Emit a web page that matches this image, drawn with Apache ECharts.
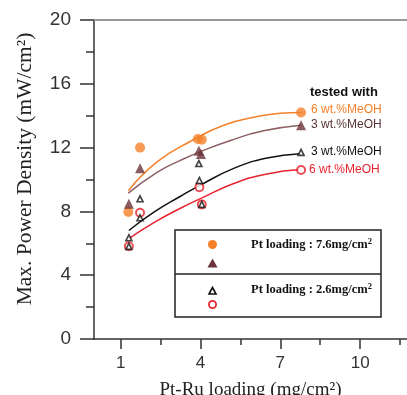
<!DOCTYPE html>
<html>
<head>
<meta charset="utf-8">
<script src="https://cdn.jsdelivr.net/npm/echarts@6/dist/echarts.min.js"></script>
<style>
  html, body { margin: 0; padding: 0; background: #fff; }
  #chart { width: 407px; height: 395px; }
</style>
</head>
<body>
<div id="chart"></div>
<script>
// tick positions
const xMajorTicks = [1, 4, 7, 10];
const xMinorTicks = [2.5, 5.5, 8.5, 11.5];
const yMinorTicks = [2, 6, 10, 14, 18];

// measured points (Pt-Ru loading, max power density)
const orangePts = [[1.29, 7.96], [1.73, 12.0], [3.9, 12.54], [4.05, 12.5], [7.78, 14.2]];
const brownPts = [[1.31, 8.48], [1.73, 10.7], [3.94, 11.8], [4.02, 11.6], [7.78, 13.4]];
const blackPts = [[1.31, 6.35], [1.31, 5.81], [1.73, 8.79], [1.73, 7.6], [3.94, 11.0], [3.96, 9.94], [4.05, 8.44], [7.78, 11.7]];
const redPts = [[1.31, 5.81], [1.73, 7.92], [3.96, 9.52], [4.05, 8.44], [7.78, 10.6]];

// fitted curves
const orangeCurve = [[1.29, 9.3], [2.37, 11.1], [3.63, 12.4], [4.87, 13.4], [6.13, 13.95], [7.0, 14.15], [7.78, 14.2]];
const brownCurve = [[1.29, 9.15], [2.37, 10.45], [3.25, 11.2], [4.0, 11.75], [5.13, 12.45], [6.37, 13.05], [7.78, 13.4]];
const blackCurve = [[1.31, 6.8], [2.25, 7.95], [3.25, 8.95], [4.0, 9.65], [5.25, 10.7], [6.5, 11.35], [7.75, 11.62]];
const redCurve = [[1.31, 6.3], [2.25, 7.3], [3.25, 8.2], [4.0, 8.8], [5.25, 9.75], [6.5, 10.35], [7.75, 10.62]];

const C_ORANGE = "#f4812a";
const C_BROWN = "#6b3339";
const C_BROWN_LINE = "#8c5f62";
const C_BLACK = "#111111";
const C_RED = "#e8232e";
const AXIS = "#333";

const chart = echarts.init(document.getElementById("chart"), null, { renderer: "canvas" });

const lineSeries = (data, color) => ({
  type: "line",
  data: data,
  smooth: 0.5,
  symbol: "none",
  lineStyle: { color: color, width: 1.5 },
  z: 2,
});

const supText = (text) => ({
  text: "{t|" + text + "}{s|2}",
  verticalAlign: "middle",
  rich: {
    t: { fontFamily: "Liberation Serif", fontWeight: "bold", fontSize: 12.5, fill: "#111" },
    s: { fontFamily: "Liberation Serif", fontWeight: "bold", fontSize: 8.5, fill: "#111", verticalAlign: "top", padding: [0, 0, 6, 0] },
  },
});

const option = {
  animation: false,
  grid: { left: 94, right: 0, top: 20, bottom: 56, outerBoundsMode: "none", containLabel: false },
  xAxis: [
    {
      type: "value",
      min: 0,
      max: 11.76,
      position: "bottom",
      splitLine: { show: false },
      axisLine: { lineStyle: { color: AXIS, width: 1.5 } },
      axisTick: { customValues: xMajorTicks, length: 10, lineStyle: { color: AXIS, width: 1.5 } },
      axisLabel: {
        customValues: xMajorTicks,
        color: AXIS,
        fontSize: 17,
        fontFamily: "Liberation Sans",
        margin: 16,
      },
      name: "Pt-Ru loading (mg/cm²)",
      nameLocation: "middle",
      nameGap: 42,
      nameTextStyle: { fontFamily: "Liberation Serif", fontSize: 19, color: "#222" },
    },
    {
      type: "value",
      min: 0,
      max: 11.76,
      position: "bottom",
      splitLine: { show: false },
      axisLine: { show: false },
      axisTick: { customValues: xMinorTicks, length: 6, lineStyle: { color: AXIS, width: 1.5 } },
      axisLabel: { show: false },
    },
    {
      type: "value",
      min: 0,
      max: 11.76,
      position: "top",
      splitLine: { show: false },
      axisLine: { lineStyle: { color: "#999", width: 2 } },
      axisTick: { show: false },
      axisLabel: { show: false },
    },
  ],
  yAxis: [
    {
      type: "value",
      min: 0,
      max: 20,
      interval: 4,
      splitLine: { show: false },
      axisLine: { show: true, lineStyle: { color: AXIS, width: 1.5 } },
      axisTick: { show: true, length: 14, lineStyle: { color: AXIS, width: 1.5 } },
      axisLabel: { color: AXIS, fontSize: 19, fontFamily: "Liberation Sans", margin: 23 },
    },
    {
      type: "value",
      min: 0,
      max: 20,
      position: "left",
      splitLine: { show: false },
      axisLine: { show: false },
      axisTick: { show: true, customValues: yMinorTicks, length: 8, lineStyle: { color: AXIS, width: 1.5 } },
      axisLabel: { show: false },
    },
  ],
  graphic: [
    {
      type: "text",
      x: 25,
      y: 169,
      rotation: Math.PI / 2,
      style: {
        text: "Max. Power Density (mW/cm²)",
        fontFamily: "Liberation Serif",
        fontSize: 21.5,
        fill: "#222",
        align: "center",
        verticalAlign: "middle",
      },
    },
    { type: "text", x: 310, y: 92, style: { text: "tested with", fontFamily: "Liberation Sans", fontWeight: "bold", fontSize: 13, fill: "#111", verticalAlign: "middle" } },
    { type: "text", x: 311, y: 110, style: { text: "6 wt.%MeOH", fontFamily: "Liberation Sans", fontSize: 12, fill: C_ORANGE, verticalAlign: "middle" } },
    { type: "text", x: 311, y: 125, style: { text: "3 wt.%MeOH", fontFamily: "Liberation Sans", fontSize: 12, fill: "#5a3438", verticalAlign: "middle" } },
    { type: "text", x: 311, y: 152, style: { text: "3 wt.%MeOH", fontFamily: "Liberation Sans", fontSize: 12, fill: "#111", verticalAlign: "middle" } },
    { type: "text", x: 309, y: 170, style: { text: "6 wt.%MeOH", fontFamily: "Liberation Sans", fontSize: 12, fill: C_RED, verticalAlign: "middle" } },
    // legend box
    { type: "rect", shape: { x: 175, y: 230, width: 206, height: 87 }, style: { fill: "#fff", stroke: "#222", lineWidth: 1.5 }, z: 10 },
    { type: "line", shape: { x1: 175, y1: 274, x2: 381, y2: 274 }, style: { stroke: "#222", lineWidth: 1.5 }, z: 11 },
    { type: "circle", shape: { cx: 212.5, cy: 244.5, r: 4.5 }, style: { fill: C_ORANGE }, z: 11 },
    { type: "polygon", shape: { points: [[212.5, 258.5], [217.5, 267.5], [207.5, 267.5]] }, style: { fill: C_BROWN }, z: 11 },
    { type: "polygon", shape: { points: [[212.5, 287.5], [216, 294], [209, 294]] }, style: { fill: "none", stroke: "#111", lineWidth: 1.6 }, z: 11 },
    { type: "circle", shape: { cx: 212.5, cy: 304.5, r: 3.6 }, style: { fill: "none", stroke: C_RED, lineWidth: 1.8 }, z: 11 },
    { type: "text", x: 251, y: 245, z: 11, style: supText("Pt loading : 7.6mg/cm") },
    { type: "text", x: 251, y: 290, z: 11, style: supText("Pt loading : 2.6mg/cm") },
  ],
  series: [
    lineSeries(orangeCurve, C_ORANGE),
    lineSeries(brownCurve, C_BROWN_LINE),
    lineSeries(blackCurve, C_BLACK),
    lineSeries(redCurve, C_RED),
    {
      type: "scatter",
      data: orangePts,
      symbol: "circle",
      symbolSize: 10,
      itemStyle: { color: C_ORANGE },
      z: 3,
    },
    {
      type: "scatter",
      data: brownPts,
      symbol: "triangle",
      symbolSize: 10,
      itemStyle: { color: C_BROWN },
      z: 3,
    },
    {
      type: "scatter",
      data: redPts,
      symbol: "circle",
      symbolSize: 8,
      itemStyle: { color: "#fff", borderColor: C_RED, borderWidth: 2 },
      z: 4,
    },
    {
      type: "scatter",
      data: blackPts,
      symbol: "triangle",
      symbolSize: 6,
      itemStyle: { color: "#fff", borderColor: "#111", borderWidth: 1.6 },
      z: 5,
    },
  ],
};

chart.setOption(option);
</script>
</body>
</html>
